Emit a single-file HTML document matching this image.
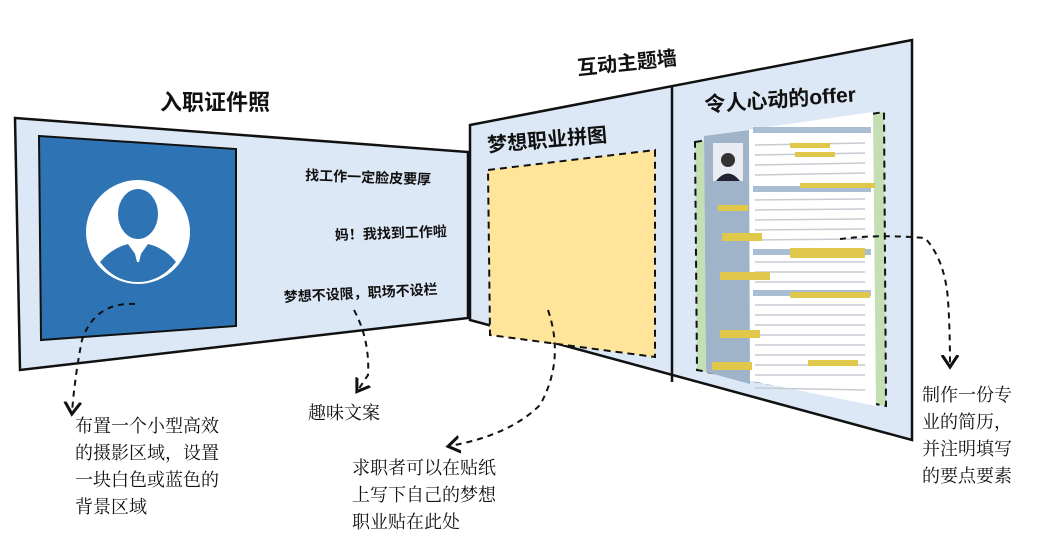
<!DOCTYPE html>
<html><head><meta charset="utf-8"><style>
body{margin:0;width:1054px;height:549px;background:#fff;overflow:hidden;font-family:"Liberation Sans","Noto Sans CJK SC",sans-serif}
svg{position:absolute;left:0;top:0}
.t{position:absolute;font-family:"Liberation Serif","Noto Serif CJK SC",serif;font-size:18px;line-height:27px;color:#111}
</style></head><body>
<svg width="1054" height="549" viewBox="0 0 1054 549" font-family="Liberation Sans, Noto Sans CJK SC, sans-serif">
<defs><marker id="a" markerWidth="10" markerHeight="10" refX="5" refY="5" orient="auto"><path d="M0,1 L6,5 L0,9" fill="none" stroke="#111" stroke-width="1.5"/></marker></defs>
<polygon points="15,118 468,152 468,318 20,370" fill="#dce8f5" stroke="#111" stroke-width="2.5"/>
<polygon points="39,136 236,149 236,326 41,340" fill="#2e74b5" stroke="#111" stroke-width="2"/>
<circle cx="138" cy="232" r="52" fill="#fff"/>
<ellipse cx="138" cy="214" rx="20" ry="25" fill="#2e74b5"/>
<path d="M100,262 Q112,248 128,244 L138,258 L148,244 Q165,248 176,262 Q160,282 138,282 Q115,282 100,262Z" fill="#2e74b5"/>
<path d="M134,250 L138,258 L142,250 L139,262 L137,262Z" fill="#fff"/>
<text x="305" y="180" font-size="14" font-weight="bold" fill="#111" transform="rotate(2 305 180)">找工作一定脸皮要厚</text>
<text x="335" y="240" font-size="14" font-weight="bold" fill="#111" transform="rotate(-2 335 240)">妈！我找到工作啦</text>
<text x="284" y="302" font-size="14" font-weight="bold" fill="#111" transform="rotate(-3 284 302)">梦想不设限，职场不设栏</text>
<text x="160" y="110" font-size="22" font-weight="bold" fill="#111">入职证件照</text>
<polygon points="470,125 912,40 912,440 470,320" fill="#dce8f5" stroke="#111" stroke-width="2.5"/>
<line x1="672" y1="86" x2="672" y2="382" stroke="#111" stroke-width="2.5"/>
<text x="578" y="75" font-size="20" font-weight="bold" fill="#111" transform="rotate(-6 578 75)">互动主题墙</text>
<text x="488" y="152" font-size="20" font-weight="bold" fill="#111" transform="rotate(-5 488 152)">梦想职业拼图</text>
<text x="705" y="112" font-size="21" font-weight="bold" fill="#111" transform="rotate(-4 705 112)">令人心动的offer</text>
<polygon points="488,170 655,150 655,357 490,335" fill="#ffe599" stroke="#111" stroke-width="2" stroke-dasharray="7,5"/>
<polygon points="695,142 884,112 886,406 697,370" fill="#c5dfb5" stroke="#111" stroke-width="2" stroke-dasharray="7,5"/>
<polygon points="704,136 873,112 876,406 706,372" fill="#fff"/>
<polygon points="704,136 749,130 750,384 706,372" fill="#9fb3c9"/>
<rect x="713" y="143" width="30" height="38" fill="#e9edf3"/>
<circle cx="728" cy="160" r="7" fill="#333"/>
<path d="M716,181 Q728,166 740,181Z" fill="#223"/>
<g fill="#a9bdd3"><rect x="753" y="127" width="118" height="6"/><rect x="753" y="186" width="118" height="6"/><rect x="753" y="249" width="118" height="6"/><rect x="753" y="290" width="118" height="6"/></g>
<g stroke="#c7ccd3" stroke-width="1.5">
<line x1="755" y1="145" x2="865" y2="143"/><line x1="755" y1="155" x2="865" y2="153"/><line x1="755" y1="165" x2="865" y2="163"/><line x1="755" y1="175" x2="865" y2="173"/>
<line x1="755" y1="200" x2="865" y2="199"/><line x1="755" y1="210" x2="865" y2="209"/><line x1="755" y1="220" x2="865" y2="219"/><line x1="755" y1="230" x2="865" y2="229"/><line x1="755" y1="240" x2="865" y2="239"/>
<line x1="755" y1="262" x2="865" y2="262"/><line x1="755" y1="272" x2="865" y2="272"/><line x1="755" y1="282" x2="865" y2="282"/>
<line x1="755" y1="305" x2="865" y2="305"/><line x1="755" y1="315" x2="865" y2="315"/><line x1="755" y1="325" x2="865" y2="325"/><line x1="755" y1="335" x2="865" y2="335"/><line x1="755" y1="345" x2="865" y2="345"/><line x1="755" y1="355" x2="865" y2="355"/><line x1="755" y1="365" x2="865" y2="365"/><line x1="755" y1="375" x2="865" y2="375"/><line x1="755" y1="388" x2="865" y2="390"/>
</g>
<g fill="#e0c84a"><rect x="790" y="143" width="40" height="5"/><rect x="795" y="152" width="40" height="5"/><rect x="800" y="183" width="75" height="5"/><rect x="718" y="205" width="30" height="6"/><rect x="722" y="233" width="40" height="8"/><rect x="790" y="248" width="75" height="10"/><rect x="720" y="272" width="50" height="8"/><rect x="790" y="292" width="80" height="6"/><rect x="720" y="330" width="40" height="8"/><rect x="808" y="360" width="50" height="6"/><rect x="712" y="362" width="40" height="8"/></g>
<g fill="none" stroke="#111" stroke-width="2" stroke-dasharray="6,5">
<path d="M135,304 Q95,302 82,340 Q75,375 72,412" marker-end="url(#a)"/>
<path d="M354,310 Q370,340 368,375 L358,390" marker-end="url(#a)"/>
<path d="M548,310 Q565,360 540,405 Q510,435 450,446" marker-end="url(#a)"/>
<path d="M840,239 Q880,234 925,238 Q945,260 948,300 Q950,330 950,365" marker-end="url(#a)"/>
</g>
</svg>
<div class="t" style="left:75px;top:413px">布置一个小型高效<br>的摄影区域，设置<br>一块白色或蓝色的<br>背景区域</div>
<div class="t" style="left:308px;top:400px">趣味文案</div>
<div class="t" style="left:352px;top:455px">求职者可以在贴纸<br>上写下自己的梦想<br>职业贴在此处</div>
<div class="t" style="left:922px;top:382px">制作一份专<br>业的简历，<br>并注明填写<br>的要点要素</div>
</body></html>
